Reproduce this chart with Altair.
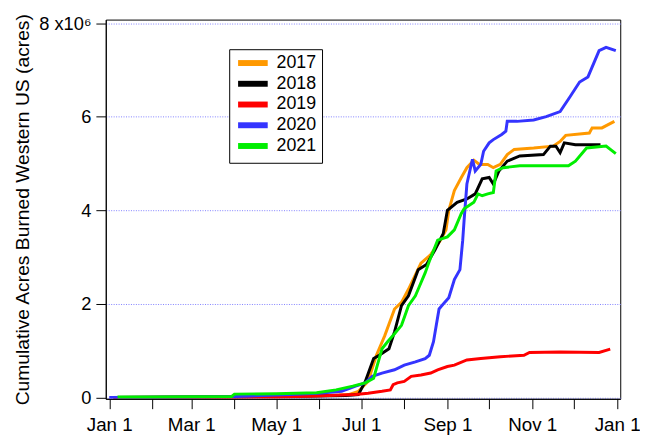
import altair as alt
import pandas as pd

years = ["2017", "2018", "2019", "2020", "2021"]
colors = ["#FF9900", "#000000", "#FF0000", "#3434FF", "#00EE00"]

# day of year (0 = Jan 1) and cumulative acres (millions)
d2017 = [3, 30, 60, 90, 120, 150, 165, 172, 179, 186, 192, 198, 205, 210, 215, 224, 231, 238, 242, 244, 248, 253, 257, 262, 266, 272, 276, 281, 286, 291, 305, 319, 324, 328, 345, 347, 354, 363]
v2017 = [0.0, 0.005, 0.01, 0.02, 0.03, 0.04, 0.05, 0.06, 0.13, 0.34, 0.9, 1.32, 1.89, 2.03, 2.31, 2.87, 3.05, 3.36, 3.58, 4.0, 4.42, 4.7, 4.91, 5.07, 4.98, 4.98, 4.91, 4.98, 5.19, 5.3, 5.33, 5.37, 5.47, 5.6, 5.65, 5.76, 5.76, 5.9]

d2018 = [3, 30, 60, 90, 120, 150, 170, 179, 184, 190, 194, 201, 205, 210, 215, 222, 228, 234, 240, 243, 250, 257, 263, 268, 273, 276, 280, 286, 295, 312, 317, 321, 324, 327, 335, 353]
v2018 = [0.0, 0.005, 0.01, 0.015, 0.02, 0.03, 0.04, 0.06, 0.34, 0.83, 0.9, 1.04, 1.4, 1.96, 2.17, 2.73, 2.84, 3.15, 3.5, 4.0, 4.17, 4.24, 4.35, 4.67, 4.7, 4.56, 4.84, 5.05, 5.16, 5.19, 5.37, 5.37, 5.23, 5.44, 5.4, 5.4]

d2019 = [3, 60, 120, 149, 177, 186, 196, 202, 204, 207, 212, 217, 224, 231, 236, 243, 248, 257, 267, 281, 298, 302, 324, 352, 360]
v2019 = [0.0, 0.0, 0.01, 0.03, 0.06, 0.09, 0.13, 0.16, 0.27, 0.31, 0.34, 0.45, 0.48, 0.52, 0.59, 0.66, 0.69, 0.8, 0.83, 0.87, 0.9, 0.96, 0.97, 0.96, 1.03]

d2020 = [0, 30, 60, 90, 110, 130, 150, 167, 177, 184, 189, 196, 205, 212, 220, 227, 230, 233, 235, 237, 241, 244, 248, 252, 254, 255, 257, 261, 263, 267, 269, 273, 276, 282, 285, 286, 293, 305, 314, 324, 331, 338, 344, 352, 357, 364]
v2020 = [0.0, 0.005, 0.01, 0.02, 0.04, 0.06, 0.09, 0.13, 0.24, 0.31, 0.45, 0.52, 0.59, 0.69, 0.76, 0.83, 0.9, 1.19, 1.54, 1.89, 2.03, 2.13, 2.52, 2.73, 3.36, 3.79, 4.56, 5.09, 4.84, 4.98, 5.26, 5.44, 5.51, 5.62, 5.69, 5.9, 5.9, 5.93, 6.0, 6.11, 6.42, 6.74, 6.85, 7.41, 7.48, 7.41]

d2021 = [6, 30, 60, 88, 90, 120, 149, 163, 175, 184, 190, 192, 194, 196, 200, 205, 210, 212, 215, 220, 223, 227, 230, 236, 243, 248, 253, 255, 262, 265, 268, 272, 276, 278, 283, 295, 330, 335, 343, 357, 364]
v2021 = [0.01, 0.01, 0.015, 0.02, 0.07, 0.08, 0.1, 0.16, 0.24, 0.31, 0.41, 0.62, 0.83, 1.04, 1.19, 1.36, 1.54, 1.71, 1.96, 2.17, 2.38, 2.66, 2.91, 3.36, 3.43, 3.58, 3.93, 4.03, 4.17, 4.35, 4.31, 4.35, 4.38, 4.84, 4.91, 4.95, 4.95, 5.05, 5.33, 5.37, 5.21]

month_ticks = [0, 31, 59, 90, 120, 151, 181, 212, 243, 273, 304, 334, 365]
month_labels = ["Jan 1", "", "Mar 1", "", "May 1", "", "Jul 1", "", "Sep 1", "", "Nov 1", "", "Jan 1"]
y_ticks = [0, 2e6, 4e6, 6e6, 8e6]
y_labels = ["0", "2", "4", "6", "8 x10\u2076"]

series = {"2017": (d2017, v2017), "2018": (d2018, v2018), "2019": (d2019, v2019),
          "2020": (d2020, v2020), "2021": (d2021, v2021)}
rows = []
for yr, (ds, vs) in series.items():
    for i, (d, v) in enumerate(zip(ds, vs)):
        rows.append({"year": yr, "day": d, "acres": v * 1e6, "idx": i})
df = pd.DataFrame(rows)

def lookup_expr(vals, labels):
    expr = "''"
    for v, l in zip(vals, labels):
        expr = f"datum.value == {v} ? '{l}' : ({expr})"
    return expr

FONT = "Liberation Sans"

chart = alt.Chart(df).mark_line(strokeWidth=3, clip=True).encode(
    x=alt.X("day:Q",
            scale=alt.Scale(domain=[-2.5, 367.2], nice=False, zero=False),
            axis=alt.Axis(values=month_ticks, labelExpr=lookup_expr(month_ticks, month_labels),
                          title=None, grid=False, tickSize=10, tickColor="black",
                          domainColor="black", labelPadding=7, labelFontSize=19,
                          labelColor="black", labelFont=FONT, labelFlush=False,
                          labelOverlap=False)),
    y=alt.Y("acres:Q",
            scale=alt.Scale(domain=[-0.03e6, 8.075e6], nice=False, zero=False),
            axis=alt.Axis(values=y_ticks, labelExpr=lookup_expr(y_ticks, y_labels),
                          title="Cumulative Acres Burned Western US (acres)",
                          grid=True, gridColor="#8080FF", gridDash=[1, 1.5], gridWidth=1,
                          tickSize=10, tickColor="black", domainColor="black",
                          labelPadding=5, labelFontSize=18.5, labelColor="black",
                          labelFont=FONT, labelFlush=False, labelOverlap=False,
                          titleFont=FONT, titleFontSize=19.5, titleFontWeight="normal",
                          titleColor="black", titlePadding=6)),
    color=alt.Color("year:N",
                    scale=alt.Scale(domain=years, range=colors),
                    legend=alt.Legend(title=None, orient="none", legendX=125, legendY=30,
                                      strokeColor="black", fillColor="white", padding=5,
                                      symbolType="M-1,0H5", symbolStrokeWidth=6,
                                      symbolSize=100, labelFontSize=18, labelFont=FONT,
                                      labelColor="black", labelOffset=25, rowPadding=-4.5)),
    order="idx:Q",
).properties(
    width=521, height=384,
    autosize=alt.AutoSizeParams(type="none"),
    padding={"left": 99, "top": 9, "right": 20, "bottom": 40},
).configure_view(stroke="black", strokeWidth=1)

chart.save("out.html", embed_options={"renderer": "svg", "actions": False})
